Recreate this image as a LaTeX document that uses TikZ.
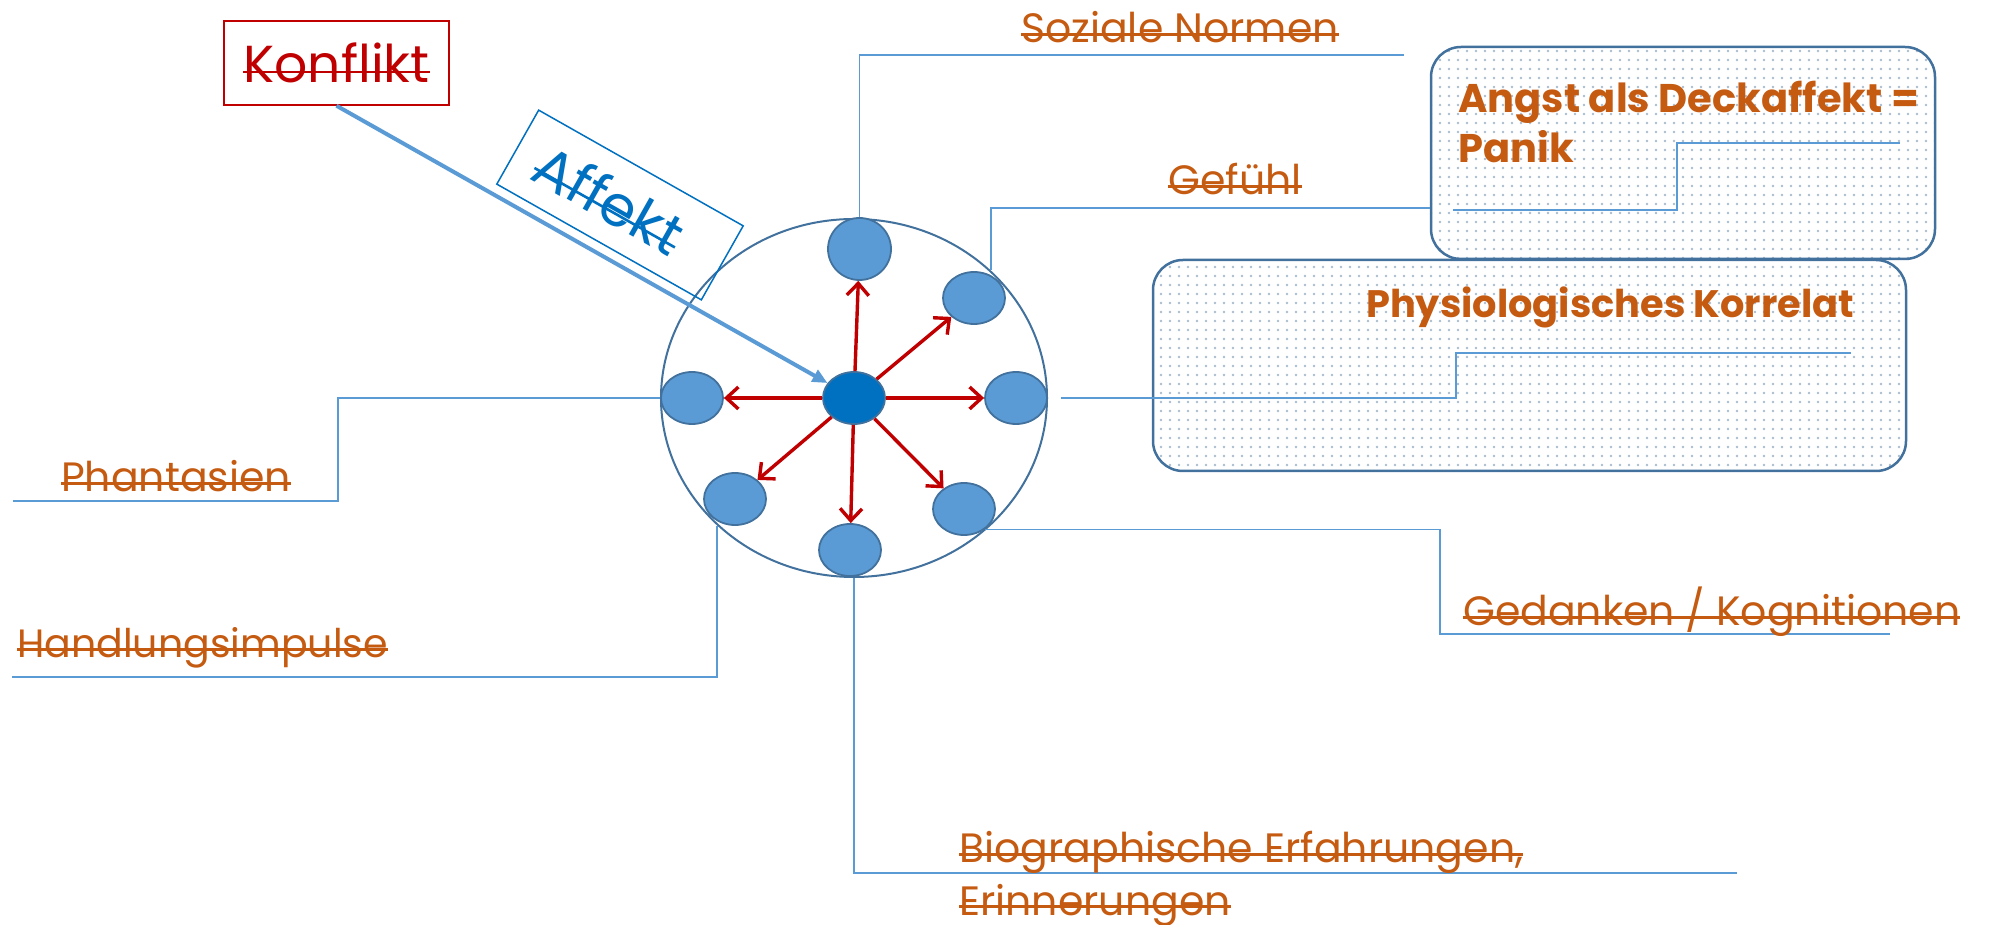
\documentclass[tikz,border=0pt]{standalone}
\usepackage{fontspec}
\setmainfont{Poppins}
\usetikzlibrary{shapes.geometric, arrows.meta, patterns.meta}
\definecolor{orng}{HTML}{C55A11}
\definecolor{arrred}{HTML}{C00000}
\definecolor{affblue}{HTML}{0070C0}
\definecolor{lblue}{HTML}{5B9BD5}
\definecolor{dblue}{HTML}{41719C}
\definecolor{dotc}{HTML}{A9BCCF}
\newsavebox\stkbox
\newcommand\stk[1]{\sbox\stkbox{#1}\rlap{\raisebox{0.33ex}{\rule{\wd\stkbox}{2.6pt}}}\usebox\stkbox}
\tikzset{
  lbl/.style={font=\fontsize{41}{50}\selectfont, text=orng, inner sep=0pt, anchor=base west},
  hd/.style={font=\bfseries\fontsize{40}{50}\selectfont, text=orng, inner sep=0pt, anchor=base west},
  conn/.style={draw=lblue, line width=1.5pt},
  dotnode/.style={ellipse, draw=dblue, line width=1.8pt, fill=lblue, minimum width=62pt, minimum height=52pt, inner sep=0pt},
  bigc/.style={ellipse, draw=dblue, line width=2pt, minimum width=386pt, minimum height=358pt, inner sep=0pt},
  cbox/.style={rectangle, rounded corners=30pt, draw=dblue, line width=2.5pt, preaction={fill=white}, pattern={Dots[distance=9pt, radius=1.3pt]}, pattern color=dotc},
  redarr/.style={draw=arrred, line width=3.4pt, -{Straight Barb[length=12pt, width=22pt]}},
  karr/.style={draw=lblue, line width=4pt, -{Triangle[length=15pt, width=13pt]}},
  frame/.style={line width=1.5pt, inner sep=0pt, font=\fontsize{52}{60}\selectfont}
}
\begin{document}
\begin{tikzpicture}[x=1pt,y=1pt]
\useasboundingbox (0,0) rectangle (1995,924);
% outer circle and dots
\node[bigc] (big) at (854,526) {};
\node[dotnode, minimum width=63pt, minimum height=62pt] (t) at (859.5,675) {};
\node[dotnode] (ur) at (974,626) {};
\node[dotnode] (r) at (1016,526) {};
\node[dotnode] (l) at (692,526) {};
\node[dotnode] (ll) at (735,425) {};
\node[dotnode] (b) at (850,374) {};
\node[dotnode] (lr) at (964,415) {};
\node[dotnode, fill=affblue] (c) at (854,526) {};
\foreach \n in {t,ur,r,l,ll,b,lr} \draw[redarr] (c) -- (\n);
% boxes
\node[cbox, minimum width=504pt, minimum height=212pt] (angst) at (1683,771) {};
\node[cbox, minimum width=753pt, minimum height=211pt] (phys) at (1529.5,558.5) {};
\node[hd] (a1) at (1458,811) {Angst als Deckaffekt =};
\node[hd] (a2) at (1458,761) {Panik};
\node[hd, font=\bfseries\fontsize{38.3}{50}\selectfont] (ph) at (1366,606) {Physiologisches Korrelat};
% connectors
\coordinate (sozE) at (1404,869);
\draw[conn] (t.north) |- (sozE);
\coordinate (gefK) at (0,716);
\draw[conn] (big.43) |- (angst.west |- gefK);
\coordinate (ai1) at (1453,714);
\coordinate (ai2) at (1677,781);
\coordinate (ai3) at (1900,781);
\draw[conn] (ai1) -| (ai2) -- (ai3);
\coordinate (pk1) at (1456,571);
\coordinate (pk2) at (1851,571);
\draw[conn] ([xshift=13pt]r.east) -| (pk1) -- (pk2);
\coordinate (gd1) at (1440,290);
\coordinate (gd2) at (1890,290);
\draw[conn] (lr.-44) -| (gd1) -- (gd2);
\coordinate (bioE) at (1737,51);
\draw[conn] (big.south) |- (bioE);
\coordinate (hE) at (12,247);
\draw[conn] (big.223) |- (hE);
\coordinate (pa1) at (338,423);
\coordinate (pa2) at (13,423);
\draw[conn] (l.west) -| (pa1) -- (pa2);
% labels
\node[lbl] (soz) at (1021,881) {\stk{Soziale Normen}};
\node[lbl] (gef) at (1168,729) {\stk{Gefühl}};
\node[lbl] (phan) at (61,432) {\stk{Phantasien}};
\node[lbl, font=\fontsize{39.5}{50}\selectfont] (hand) at (17,266) {\stk{Handlungsimpulse}};
\node[lbl] (ged) at (1463,298) {\stk{Gedanken / Kognitionen}};
\node[lbl] (bio1) at (959,61) {\stk{Biographische Erfahrungen,}};
\node[lbl] (bio2) at (959,9) {\stk{Erinnerungen}};
% Konflikt and Affekt
\node[frame, draw=arrred, fill=white, text=arrred, minimum width=225pt, minimum height=84pt] (konf) at (336.5,861) {\stk{Konflikt}};
\draw[karr] (konf.south) -- (c);
\node[frame, draw=affblue, text=affblue, minimum width=235pt, minimum height=85pt, rotate=-29.5, font=\fontsize{57}{60}\selectfont] (aff) at (620,719) {\stk{Affekt}\hspace*{24pt}};
\end{tikzpicture}
\end{document}
